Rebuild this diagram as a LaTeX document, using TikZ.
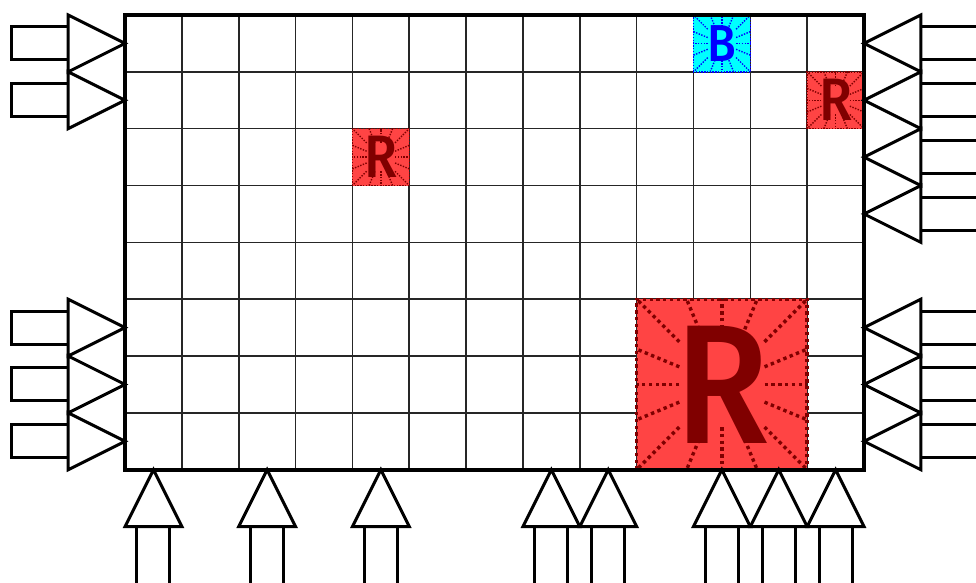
\documentclass[tikz,border=0pt]{standalone}
\usepackage{fontspec}
\newfontfamily\cellfont{Fira Sans Medium}
\definecolor{cellred}{RGB}{255,68,68}
\definecolor{inkred}{RGB}{128,0,0}
\definecolor{cellcyan}{RGB}{0,255,255}
\definecolor{inkblue}{RGB}{0,0,255}

% #1,#2 lower left corner, #3 size, #4 fill, #5 ink, #6 letter, #7 ray width, #8 font size
\newcommand{\raycell}[8]{%
  \fill[#4] (#1,#2) rectangle ++(#3,#3);
  \begin{scope}[shift={({#1+0.5*#3},{#2+0.5*#3})}]
    \foreach \a in {0,22.5,...,337.5} {
      \pgfmathsetmacro{\raylen}{0.5*#3/max(abs(cos(\a)),abs(sin(\a)))}
      \draw[#5, line width=#7, dash pattern=on #7 off #7] (\a:{0.5*\raylen}) -- (\a:\raylen);
    }
    \draw[#5, line width=#7, dash pattern=on #7 off #7] ({-0.5*#3},{-0.5*#3}) rectangle ({0.5*#3},{0.5*#3});
    \node[text=#5, font=\cellfont\fontsize{#8}{#8}\selectfont, inner sep=0pt, xscale=0.9] at (0,0) {#6};
  \end{scope}
}

\begin{document}
\begin{tikzpicture}[gridline/.style={line width=0.8pt, black!85},
                    arrowline/.style={line width=1.5pt, fill=white}]
  \useasboundingbox (-2.2,-1.99) rectangle (14.97,8.264);
  \clip (-2.2,-1.99) rectangle (14.97,8.264);

  % board
  \draw[gridline] (0,0) grid (13,8);

  % coloured cells
  \raycell{10}{7}{1}{cellcyan}{inkblue}{B}{0.7pt}{26pt}
  \raycell{12}{6}{1}{cellred}{inkred}{R}{0.7pt}{30pt}
  \raycell{4}{5}{1}{cellred}{inkred}{R}{0.7pt}{30pt}
  \raycell{9}{0}{3}{cellred}{inkred}{R}{1.7pt}{85pt}

  \draw[line width=2pt] (0,0) rectangle (13,8);

  % left arrows
  \foreach \y in {7.5,6.5,2.5,1.5,0.5} {
    \draw[arrowline] (-2,\y-0.29) rectangle (-1,\y+0.29);
    \draw[arrowline] (0,\y) -- (-1,\y+0.5) -- (-1,\y-0.5) -- cycle;
  }

  % right arrows
  \foreach \y in {7.5,6.5,5.5,4.5,2.5,1.5,0.5} {
    \draw[arrowline] (14,\y-0.29) rectangle (15.3,\y+0.29);
    \draw[arrowline] (13,\y) -- (14,\y+0.5) -- (14,\y-0.5) -- cycle;
  }

  % bottom arrows
  \foreach \x in {0.5,2.5,4.5,7.5,8.5,10.5,11.5,12.5} {
    \draw[arrowline] (\x-0.29,-1) rectangle (\x+0.29,-2.3);
    \draw[arrowline] (\x,0) -- (\x-0.5,-1) -- (\x+0.5,-1) -- cycle;
  }
\end{tikzpicture}
\end{document}
